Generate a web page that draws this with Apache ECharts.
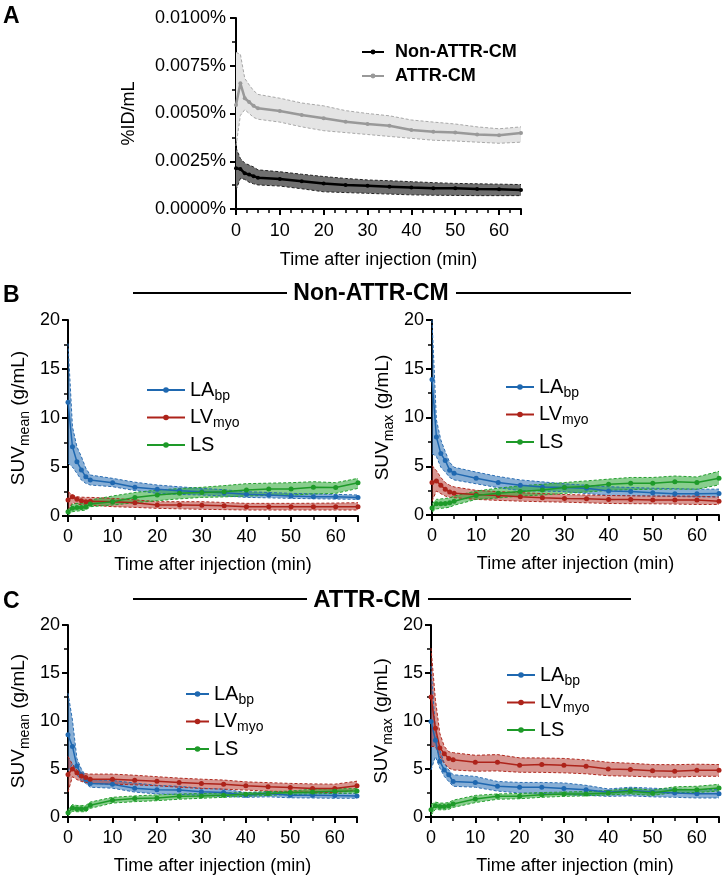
<!DOCTYPE html>
<html>
<head>
<meta charset="utf-8">
<script src="https://cdn.jsdelivr.net/npm/echarts@6/dist/echarts.min.js"></script>
<style>
  html, body { margin: 0; padding: 0; background: #fff; }
  #chart { width: 722px; height: 879px; }
</style>
</head>
<body>
<div id="chart"></div>
<script>
// time points (min)
const t = [0, 1, 2, 3, 4, 5, 10, 15, 20, 25, 30, 35, 40, 45, 50, 55, 60, 65];

// A: %ID/mL
const nonMean = [0.00213, 0.0021, 0.00187, 0.0018, 0.00172, 0.00164, 0.00157, 0.00145, 0.00134, 0.00126, 0.00122, 0.00117, 0.00112, 0.00108, 0.00108, 0.00105, 0.00103, 0.001];
const nonHi = [0.0032, 0.00265, 0.0024, 0.0023, 0.0022, 0.00205, 0.00195, 0.00182, 0.0017, 0.0016, 0.00152, 0.00148, 0.00143, 0.00138, 0.00134, 0.00132, 0.0013, 0.00128];
const nonLo = [0.001, 0.0016, 0.00155, 0.0014, 0.00132, 0.00126, 0.0012, 0.00106, 0.0009, 0.00086, 0.00082, 0.00078, 0.00074, 0.00072, 0.00071, 0.0007, 0.0007, 0.0007];
const attrMean = [0.00545, 0.00658, 0.0058, 0.0056, 0.0054, 0.00527, 0.00513, 0.00492, 0.00475, 0.00457, 0.00445, 0.00436, 0.00414, 0.00405, 0.004, 0.0039, 0.00386, 0.00398];
const attrHi = [0.0082, 0.0081, 0.00684, 0.0065, 0.0062, 0.006, 0.0058, 0.00555, 0.0054, 0.00515, 0.005, 0.00488, 0.00466, 0.00455, 0.00445, 0.0043, 0.0042, 0.0043];
const attrLo = [0.0033, 0.0049, 0.0052, 0.005, 0.0048, 0.0047, 0.00455, 0.0043, 0.0041, 0.004, 0.0039, 0.0038, 0.0037, 0.0036, 0.00356, 0.0035, 0.00344, 0.0035];

// B left: SUVmean, Non-ATTR-CM
const bMeanLA = [11.6, 7.07, 5.54, 4.7, 4.0, 3.67, 3.4, 2.93, 2.72, 2.58, 2.48, 2.38, 2.21, 2.14, 2.04, 1.97, 1.97, 1.9];
const bMeanLAhi = [17.6, 9.1, 7.07, 6.05, 4.87, 4.18, 3.84, 3.45, 3.16, 2.98, 2.82, 2.68, 2.48, 2.4, 2.31, 2.26, 2.21, 2.14];
const bMeanLAlo = [5.4, 5.0, 4.35, 3.67, 3.33, 3.16, 2.99, 2.6, 2.31, 2.2, 2.14, 2.05, 1.9, 1.85, 1.8, 1.76, 1.73, 1.7];
const bMeanLV = [1.63, 1.97, 1.7, 1.56, 1.46, 1.5, 1.46, 1.36, 1.12, 1.12, 1.1, 1.05, 0.95, 0.95, 0.95, 0.94, 0.95, 0.95];
const bMeanLVhi = [2.48, 2.14, 1.97, 1.92, 1.9, 1.9, 1.8, 1.65, 1.46, 1.46, 1.46, 1.38, 1.29, 1.29, 1.29, 1.3, 1.32, 1.36];
const bMeanLVlo = [0.61, 1.36, 1.22, 1.15, 1.12, 1.12, 0.95, 0.88, 0.78, 0.73, 0.68, 0.65, 0.61, 0.61, 0.61, 0.61, 0.61, 0.61];
const bMeanLS = [0.44, 0.78, 0.88, 0.88, 0.95, 1.22, 1.46, 1.9, 2.14, 2.31, 2.41, 2.48, 2.65, 2.75, 2.75, 2.93, 2.9, 3.4];
const bMeanLShi = [0.61, 1.22, 1.29, 1.3, 1.36, 1.63, 2.04, 2.4, 2.65, 2.8, 2.93, 3.1, 3.3, 3.35, 3.4, 3.5, 3.4, 3.84];
const bMeanLSlo = [0.1, 0.44, 0.5, 0.55, 0.61, 0.95, 1.12, 1.35, 1.56, 1.75, 1.9, 1.95, 2.04, 2.1, 2.14, 2.25, 2.31, 2.82];

// B right: SUVmax, Non-ATTR-CM
const bMaxLA = [13.9, 8.0, 6.3, 5.6, 4.6, 4.27, 3.78, 3.33, 3.06, 2.88, 2.81, 2.74, 2.47, 2.4, 2.29, 2.19, 2.19, 2.2];
const bMaxLAhi = [20, 9.76, 7.7, 6.5, 5.4, 4.9, 4.4, 3.95, 3.6, 3.4, 3.2, 3.05, 2.9, 2.82, 2.75, 2.7, 2.65, 2.65];
const bMaxLAlo = [6.3, 6.0, 4.9, 4.4, 3.85, 3.6, 3.2, 2.8, 2.5, 2.45, 2.4, 2.2, 2.0, 1.98, 1.95, 1.9, 1.85, 1.85];
const bMaxLV = [3.33, 3.5, 3.06, 2.64, 2.36, 2.22, 2.1, 2.0, 1.87, 1.77, 1.7, 1.66, 1.6, 1.6, 1.53, 1.53, 1.53, 1.42];
const bMaxLVhi = [5.07, 4.55, 3.85, 3.33, 3.05, 2.88, 2.53, 2.4, 2.29, 2.2, 2.1, 2.05, 2.0, 1.97, 1.94, 1.94, 1.94, 1.84];
const bMaxLVlo = [1.42, 2.46, 2.19, 1.94, 1.82, 1.77, 1.6, 1.5, 1.42, 1.36, 1.32, 1.25, 1.18, 1.16, 1.15, 1.12, 1.08, 1.08];
const bMaxLS = [0.73, 1.15, 1.15, 1.18, 1.25, 1.42, 2.0, 2.22, 2.4, 2.57, 2.81, 2.92, 3.16, 3.26, 3.26, 3.4, 3.33, 3.78];
const bMaxLShi = [1.15, 1.6, 1.65, 1.7, 1.75, 1.94, 2.46, 2.75, 3.0, 3.15, 3.33, 3.5, 3.68, 3.85, 3.85, 4.0, 3.9, 4.48];
const bMaxLSlo = [0.31, 0.63, 0.68, 0.73, 0.8, 1.0, 1.6, 1.75, 1.94, 2.05, 2.22, 2.35, 2.53, 2.6, 2.64, 2.66, 2.64, 3.09];

// C left: SUVmean, ATTR-CM
const cMeanLA = [8.56, 7.35, 5.3, 4.4, 3.9, 3.5, 3.4, 3.0, 2.84, 2.8, 2.62, 2.55, 2.27, 2.44, 2.27, 2.27, 2.25, 2.2];
const cMeanLAhi = [12.9, 10.1, 6.1, 5.0, 4.3, 3.9, 3.8, 3.54, 3.3, 3.2, 3.0, 2.9, 2.55, 2.6, 2.55, 2.55, 2.5, 2.45];
const cMeanLAlo = [4.8, 5.5, 4.4, 3.8, 3.5, 3.1, 3.0, 2.6, 2.4, 2.35, 2.25, 2.15, 2.05, 2.1, 2.0, 1.98, 1.95, 1.95];
const cMeanLV = [4.43, 5.0, 4.6, 4.26, 4.12, 3.94, 3.94, 3.84, 3.73, 3.6, 3.5, 3.42, 3.25, 3.14, 3.07, 2.97, 2.97, 3.25];
const cMeanLVhi = [6.3, 5.5, 4.9, 4.6, 4.5, 4.47, 4.47, 4.35, 4.2, 4.05, 3.94, 3.85, 3.66, 3.58, 3.5, 3.45, 3.42, 3.73];
const cMeanLVlo = [2.6, 4.2, 3.9, 3.7, 3.6, 3.5, 3.42, 3.35, 3.25, 3.1, 2.97, 2.9, 2.8, 2.7, 2.6, 2.58, 2.55, 2.8];
const cMeanLS = [0.45, 0.94, 0.87, 0.87, 0.87, 1.22, 1.75, 1.92, 1.99, 2.16, 2.2, 2.27, 2.37, 2.44, 2.55, 2.6, 2.69, 2.72];
const cMeanLShi = [0.75, 1.3, 1.2, 1.2, 1.2, 1.55, 2.05, 2.2, 2.3, 2.4, 2.45, 2.5, 2.55, 2.65, 2.7, 2.9, 2.95, 2.95];
const cMeanLSlo = [0.1, 0.6, 0.55, 0.55, 0.55, 0.9, 1.45, 1.6, 1.7, 1.85, 1.95, 2.05, 2.15, 2.25, 2.35, 2.4, 2.45, 2.5];

// C right: SUVmax, ATTR-CM
const cMaxLA = [9.95, 8.0, 5.8, 4.9, 4.4, 3.7, 3.6, 3.2, 3.1, 3.1, 2.96, 2.85, 2.57, 2.75, 2.6, 2.5, 2.43, 2.43];
const cMaxLAhi = [15.7, 9.1, 7.0, 5.6, 4.9, 4.4, 4.23, 3.7, 3.6, 3.6, 3.55, 3.3, 2.92, 3.1, 3.0, 2.9, 2.85, 2.85];
const cMaxLAlo = [4.9, 6.3, 5.1, 4.23, 3.7, 3.2, 3.1, 2.7, 2.5, 2.45, 2.33, 2.25, 2.15, 2.2, 2.1, 2.05, 1.98, 1.98];
const cMaxLV = [12.5, 9.25, 7.2, 6.6, 6.1, 5.96, 5.7, 5.7, 5.4, 5.46, 5.4, 5.29, 5.0, 4.94, 4.83, 4.77, 4.87, 4.87];
const cMaxLVhi = [17.6, 12.2, 8.7, 7.35, 6.8, 6.7, 6.43, 6.5, 6.16, 6.15, 6.1, 5.95, 5.7, 5.6, 5.46, 5.45, 5.5, 5.46];
const cMaxLVlo = [7.35, 7.35, 6.3, 5.6, 5.1, 4.9, 4.77, 4.8, 4.66, 4.65, 4.6, 4.5, 4.3, 4.25, 4.17, 4.15, 4.24, 4.24];
const cMaxLS = [0.76, 1.18, 1.1, 1.1, 1.18, 1.35, 1.87, 2.16, 2.16, 2.33, 2.4, 2.4, 2.5, 2.68, 2.5, 2.85, 2.85, 3.03];
const cMaxLShi = [1.3, 1.55, 1.45, 1.45, 1.5, 1.75, 2.25, 2.4, 2.45, 2.55, 2.6, 2.65, 2.75, 3.0, 2.8, 3.15, 3.2, 3.4];
const cMaxLSlo = [0.2, 0.8, 0.75, 0.75, 0.8, 1.0, 1.5, 1.85, 1.9, 2.05, 2.15, 2.2, 2.3, 2.4, 2.25, 2.55, 2.55, 2.7];

const FONT = '"Liberation Sans", Arial, sans-serif';
const BLUE = { line: '#1f68b0', fill: 'rgba(38,110,180,0.55)', dash: '#2a6db2', width: 1.5, sym: 5 };
const RED = { line: '#ad231a', fill: 'rgba(178,45,35,0.5)', dash: '#b0281e', width: 1.5, sym: 5 };
const GREEN = { line: '#1e9a29', fill: 'rgba(40,165,50,0.55)', dash: '#24a02e', width: 1.5, sym: 5 };
const BLACK = { line: '#000', fill: '#6f6f6f', dash: '#222', width: 2.5, sym: 4 };
const GRAY = { line: '#999', fill: '#e4e4e4', dash: '#a8a8a8', width: 2.5, sym: 4 };

function pairs(ys) {
  return t.map((x, i) => [x, ys[i]]);
}

// mean line + shaded band (custom polygon) with dashed edges
function band(gi, name, mean, hi, lo, c) {
  const base = { xAxisIndex: gi, yAxisIndex: gi, silent: true, animation: false };
  return [
    Object.assign({}, base, {
      type: 'custom', z: 1, clip: true,
      data: t.map((x, i) => [x, lo[i], hi[i]]),
      encode: { x: 0, y: [1, 2] },
      renderItem: function (params, api) {
        if (params.dataIndex !== 0) return null;
        const top = [];
        const bottom = [];
        for (let j = 0; j < t.length; j += 1) {
          top.push(api.coord([api.value(0, j), api.value(2, j)]));
          bottom.push(api.coord([api.value(0, j), api.value(1, j)]));
        }
        return { type: 'polygon', shape: { points: top.concat(bottom.reverse()) }, style: { fill: c.fill } };
      },
    }),
    Object.assign({}, base, { type: 'line', data: pairs(hi), symbol: 'none', lineStyle: { color: c.dash, width: 1, type: [3, 2] }, z: 2 }),
    Object.assign({}, base, { type: 'line', data: pairs(lo), symbol: 'none', lineStyle: { color: c.dash, width: 1, type: [3, 2] }, z: 2 }),
    Object.assign({}, base, {
      type: 'line', name: name, data: pairs(mean), symbol: 'circle', symbolSize: c.sym,
      itemStyle: { color: c.line }, lineStyle: { color: c.line, width: c.width }, z: 3,
    }),
  ];
}

function xAxisFor(gi, minorSplit, margin, gap) {
  return {
    type: 'value', gridIndex: gi, min: 0, max: 65, interval: 10,
    axisLine: { lineStyle: { color: '#000', width: 2 } },
    axisTick: { length: 6, lineStyle: { color: '#000', width: 2 } },
    minorTick: { show: true, splitNumber: minorSplit, length: 4, lineStyle: { color: '#000', width: 1.5 } },
    splitLine: { show: false },
    axisLabel: {
      fontSize: 18, color: '#000', fontFamily: FONT, margin: margin,
      formatter: v => (v % 10 === 0 ? String(v) : ''),
    },
    name: 'Time after injection (min)', nameLocation: 'middle', nameGap: gap,
    nameTextStyle: { fontSize: 18, color: '#000', fontFamily: FONT },
  };
}

function suvYAxis(gi, sub) {
  return {
    type: 'value', gridIndex: gi, min: 0, max: 20, interval: 5,
    axisLine: { show: true, lineStyle: { color: '#000', width: 2 } },
    axisTick: { show: true, length: 6, lineStyle: { color: '#000', width: 2 } },
    minorTick: { show: true, splitNumber: 2, length: 4, lineStyle: { color: '#000', width: 1.5 } },
    splitLine: { show: false },
    axisLabel: { fontSize: 18, color: '#000', fontFamily: FONT, margin: 8 },
    name: 'SUV{s|' + sub + '} (g/mL)', nameLocation: 'middle', nameGap: 36,
    nameTextStyle: {
      fontSize: 19, color: '#000', fontFamily: FONT, lineHeight: 26,
      rich: { s: { fontSize: 14, color: '#000', fontFamily: FONT, verticalAlign: 'bottom' } },
    },
  };
}

const subNames = { LAbp: 'LA{s|bp}', LVmyo: 'LV{s|myo}', LS: 'LS' };

function suvLegend(left, top, w) {
  return {
    orient: 'vertical', left: left, top: top, itemWidth: w, itemHeight: 7, itemGap: 1.5,
    selectedMode: false,
    data: ['LAbp', 'LVmyo', 'LS'],
    formatter: n => subNames[n],
    textStyle: {
      fontSize: 20, color: '#000', fontFamily: FONT, lineHeight: 26,
      rich: { s: { fontSize: 14, color: '#000', fontFamily: FONT, verticalAlign: 'bottom' } },
    },
  };
}

const grids = [
  { left: 236, top: 18, width: 285, height: 191 },
  { left: 68, top: 320, width: 290, height: 196 },
  { left: 432, top: 320, width: 288, height: 195 },
  { left: 68, top: 625, width: 289, height: 192 },
  { left: 431, top: 625, width: 289, height: 192 },
];

const series = [].concat(
  band(0, 'ATTR-CM', attrMean, attrHi, attrLo, GRAY),
  band(0, 'Non-ATTR-CM', nonMean, nonHi, nonLo, BLACK),
  band(1, 'LAbp', bMeanLA, bMeanLAhi, bMeanLAlo, BLUE),
  band(1, 'LVmyo', bMeanLV, bMeanLVhi, bMeanLVlo, RED),
  band(1, 'LS', bMeanLS, bMeanLShi, bMeanLSlo, GREEN),
  band(2, 'LAbp', bMaxLA, bMaxLAhi, bMaxLAlo, BLUE),
  band(2, 'LVmyo', bMaxLV, bMaxLVhi, bMaxLVlo, RED),
  band(2, 'LS', bMaxLS, bMaxLShi, bMaxLSlo, GREEN),
  band(3, 'LAbp', cMeanLA, cMeanLAhi, cMeanLAlo, BLUE),
  band(3, 'LVmyo', cMeanLV, cMeanLVhi, cMeanLVlo, RED),
  band(3, 'LS', cMeanLS, cMeanLShi, cMeanLSlo, GREEN),
  band(4, 'LAbp', cMaxLA, cMaxLAhi, cMaxLAlo, BLUE),
  band(4, 'LVmyo', cMaxLV, cMaxLVhi, cMaxLVlo, RED),
  band(4, 'LS', cMaxLS, cMaxLShi, cMaxLSlo, GREEN)
);

function headerLine(x1, x2, y) {
  return { type: 'line', shape: { x1: x1, y1: y, x2: x2, y2: y }, style: { stroke: '#000', lineWidth: 2 } };
}

function label(text, x, y, size, align) {
  return {
    type: 'text', x: x, y: y,
    style: { text: text, fontSize: size, fontWeight: 'bold', fontFamily: FONT, fill: '#000', align: align || 'left', verticalAlign: 'middle' },
  };
}

const option = {
  backgroundColor: '#fff',
  animation: false,
  grid: grids,
  xAxis: [xAxisFor(0, 4, 13, 42), xAxisFor(1, 2, 12, 40), xAxisFor(2, 2, 12, 40), xAxisFor(3, 2, 12, 40), xAxisFor(4, 2, 12, 40)],
  yAxis: [
    {
      type: 'value', gridIndex: 0, min: 0, max: 0.01, interval: 0.0025,
      axisLine: { show: true, lineStyle: { color: '#000', width: 2 } },
      axisTick: { show: true, length: 6, lineStyle: { color: '#000', width: 2 } },
      minorTick: { show: true, splitNumber: 2, length: 4, lineStyle: { color: '#000', width: 1.5 } },
      splitLine: { show: false },
      axisLabel: { fontSize: 18, color: '#000', fontFamily: FONT, margin: 10, formatter: v => v.toFixed(4) + '%' },
      name: '%ID/mL', nameLocation: 'middle', nameGap: 98,
      nameTextStyle: { fontSize: 18, color: '#000', fontFamily: FONT },
    },
    suvYAxis(1, 'mean'),
    suvYAxis(2, 'max'),
    suvYAxis(3, 'mean'),
    suvYAxis(4, 'max'),
  ],
  legend: [
    {
      orient: 'vertical', left: 356, top: 37, itemWidth: 22, itemHeight: 6, itemGap: 4,
      selectedMode: false,
      data: ['Non-ATTR-CM', 'ATTR-CM'],
      textStyle: { fontSize: 18, fontWeight: 'bold', color: '#000', fontFamily: FONT, lineHeight: 20, padding: [0, 0, 0, 6] },
    },
    suvLegend(141, 372, 38),
    suvLegend(500, 369, 28),
    suvLegend(180, 676, 23),
    suvLegend(501, 657, 28),
  ],
  graphic: [
    label('A', 3, 17, 23),
    label('B', 3, 296, 23),
    label('C', 3, 602, 23),
    headerLine(133, 287, 293),
    label('Non-ATTR-CM', 371, 294, 23, 'center'),
    headerLine(456, 631, 293),
    headerLine(133, 307, 599),
    label('ATTR-CM', 367, 600, 24, 'center'),
    headerLine(428, 631, 599),
  ],
  series: series,
};

const chart = echarts.init(document.getElementById('chart'), null, { renderer: 'canvas' });
chart.setOption(option);
</script>
</body>
</html>
